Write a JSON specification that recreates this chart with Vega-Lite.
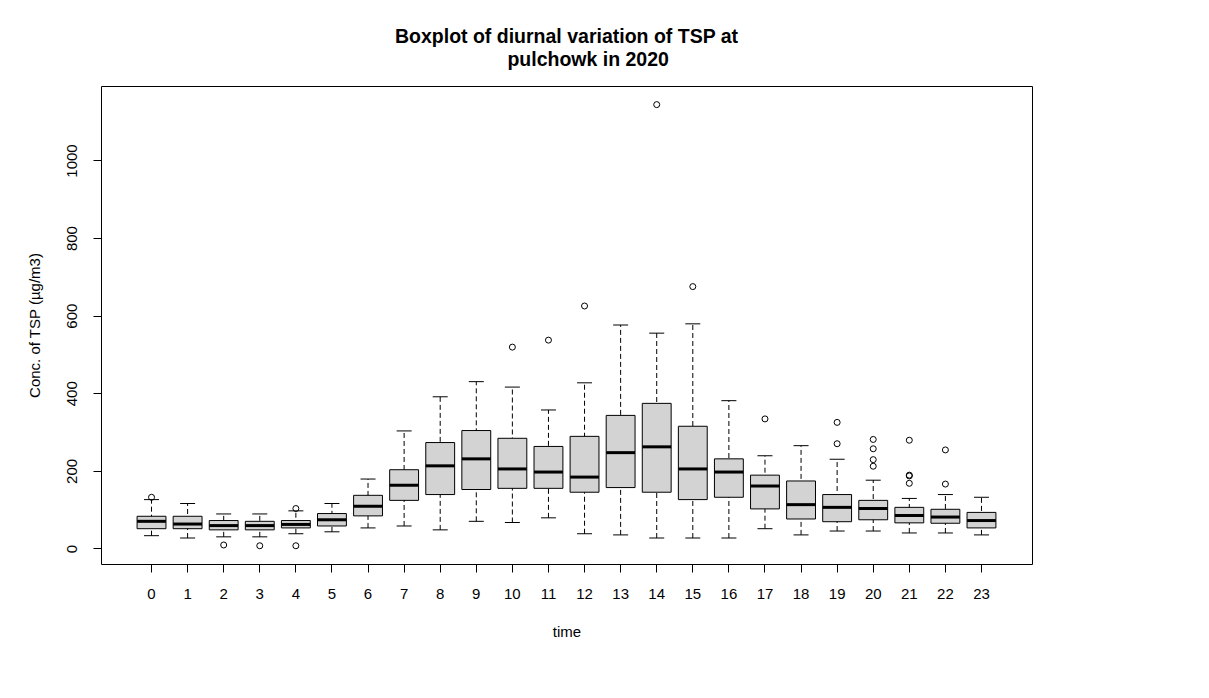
{
  "$schema": "https://vega.github.io/schema/vega-lite/v6.json",
  "autosize": {"type": "none"},
  "padding": {"left": 101, "top": 86, "right": 177, "bottom": 134},
  "width": 931,
  "height": 478,
  "background": "white",
  "title": {
    "text": ["Boxplot of diurnal variation of TSP at", "\u200b\u00a0\u00a0\u00a0\u00a0\u00a0\u00a0\u00a0\u00a0pulchowk in 2020"],
    "font": "Liberation Sans",
    "fontSize": 19.5,
    "fontWeight": "bold",
    "color": "black",
    "anchor": "middle",
    "frame": "group",
    "baseline": "bottom",
    "lineHeight": 23,
    "offset": -3
  },
  "config": {
    "view": {"stroke": "black", "strokeWidth": 1},
    "font": "Liberation Sans",
    "axis": {
      "labelFont": "Liberation Sans",
      "titleFont": "Liberation Sans",
      "labelFontSize": 15,
      "titleFontSize": 15,
      "titleFontWeight": "normal",
      "labelColor": "black",
      "titleColor": "black",
      "tickColor": "black",
      "tickSize": 8,
      "grid": false,
      "domain": false
    }
  },
  "datasets": {
    "stats": [
      {"hour": 0, "low": 33, "q1": 51, "med": 70, "q3": 83, "high": 126},
      {"hour": 1, "low": 27, "q1": 51, "med": 63, "q3": 83, "high": 116},
      {"hour": 2, "low": 30, "q1": 48, "med": 59, "q3": 72, "high": 89},
      {"hour": 3, "low": 30, "q1": 48, "med": 59, "q3": 70, "high": 89},
      {"hour": 4, "low": 38, "q1": 53, "med": 62, "q3": 72, "high": 97},
      {"hour": 5, "low": 43, "q1": 58, "med": 74, "q3": 90, "high": 116},
      {"hour": 6, "low": 53, "q1": 84, "med": 109, "q3": 137, "high": 179},
      {"hour": 7, "low": 58, "q1": 124, "med": 163, "q3": 203, "high": 303},
      {"hour": 8, "low": 48, "q1": 139, "med": 213, "q3": 273, "high": 391},
      {"hour": 9, "low": 70, "q1": 152, "med": 231, "q3": 304, "high": 430},
      {"hour": 10, "low": 67, "q1": 155, "med": 205, "q3": 284, "high": 416},
      {"hour": 11, "low": 79, "q1": 155, "med": 197, "q3": 263, "high": 357},
      {"hour": 12, "low": 38, "q1": 145, "med": 184, "q3": 289, "high": 427},
      {"hour": 13, "low": 35, "q1": 157, "med": 247, "q3": 343, "high": 576},
      {"hour": 14, "low": 27, "q1": 145, "med": 262, "q3": 374, "high": 555},
      {"hour": 15, "low": 27, "q1": 126, "med": 205, "q3": 315, "high": 579},
      {"hour": 16, "low": 27, "q1": 132, "med": 197, "q3": 231, "high": 381},
      {"hour": 17, "low": 51, "q1": 102, "med": 161, "q3": 189, "high": 239},
      {"hour": 18, "low": 35, "q1": 76, "med": 113, "q3": 174, "high": 265},
      {"hour": 19, "low": 45, "q1": 69, "med": 106, "q3": 139, "high": 230},
      {"hour": 20, "low": 45, "q1": 74, "med": 103, "q3": 124, "high": 176},
      {"hour": 21, "low": 40, "q1": 66, "med": 85, "q3": 106, "high": 129},
      {"hour": 22, "low": 40, "q1": 65, "med": 81, "q3": 101, "high": 139},
      {"hour": 23, "low": 35, "q1": 53, "med": 72, "q3": 93, "high": 132}
    ],
    "outliers": [
      {"hour": 0, "value": 132},
      {"hour": 2, "value": 9},
      {"hour": 3, "value": 7},
      {"hour": 4, "value": 103},
      {"hour": 4, "value": 7},
      {"hour": 10, "value": 519},
      {"hour": 11, "value": 537},
      {"hour": 12, "value": 625},
      {"hour": 14, "value": 1144},
      {"hour": 15, "value": 675},
      {"hour": 17, "value": 334},
      {"hour": 19, "value": 325},
      {"hour": 19, "value": 270},
      {"hour": 20, "value": 281},
      {"hour": 20, "value": 257},
      {"hour": 20, "value": 229},
      {"hour": 20, "value": 212},
      {"hour": 21, "value": 279},
      {"hour": 21, "value": 189},
      {"hour": 21, "value": 187},
      {"hour": 21, "value": 168},
      {"hour": 22, "value": 254},
      {"hour": 22, "value": 166}
    ]
  },
  "encoding": {
    "x": {
      "field": "hour",
      "type": "ordinal",
      "scale": {"type": "band", "paddingInner": 0.2, "paddingOuter": 1.03},
      "axis": {"labelAngle": 0, "labelPadding": 14, "title": "time", "titlePadding": 23}
    }
  },
  "layer": [
    {
      "data": {"name": "stats"},
      "mark": {"type": "rule", "color": "black", "strokeWidth": 1, "strokeDash": [5, 3]},
      "encoding": {
        "y": {
          "field": "low",
          "type": "quantitative",
          "scale": {"domain": [-40, 1192], "nice": false, "zero": false},
          "axis": {
            "values": [0, 200, 400, 600, 800, 1000],
            "format": "d",
            "labelAngle": 270,
            "labelAlign": "center",
            "labelBaseline": "bottom",
            "labelPadding": 14,
            "title": "Conc. of TSP (µg/m3)",
            "titlePadding": 22
          }
        },
        "y2": {"field": "high"}
      }
    },
    {
      "data": {"name": "stats"},
      "mark": {"type": "tick", "color": "black", "opacity": 1, "size": 15, "thickness": 1},
      "encoding": {"y": {"field": "high", "type": "quantitative"}}
    },
    {
      "data": {"name": "stats"},
      "mark": {"type": "tick", "color": "black", "opacity": 1, "size": 15, "thickness": 1},
      "encoding": {"y": {"field": "low", "type": "quantitative"}}
    },
    {
      "data": {"name": "stats"},
      "mark": {"type": "bar", "fill": "#d3d3d3", "stroke": "black", "strokeWidth": 1, "opacity": 1},
      "encoding": {
        "y": {"field": "q1", "type": "quantitative"},
        "y2": {"field": "q3"}
      }
    },
    {
      "data": {"name": "stats"},
      "mark": {"type": "tick", "color": "black", "opacity": 1, "size": 28.8, "thickness": 3},
      "encoding": {"y": {"field": "med", "type": "quantitative"}}
    },
    {
      "data": {"name": "outliers"},
      "mark": {"type": "point", "shape": "circle", "filled": false, "stroke": "black", "strokeWidth": 1, "size": 36, "opacity": 1},
      "encoding": {"y": {"field": "value", "type": "quantitative"}}
    }
  ]
}
